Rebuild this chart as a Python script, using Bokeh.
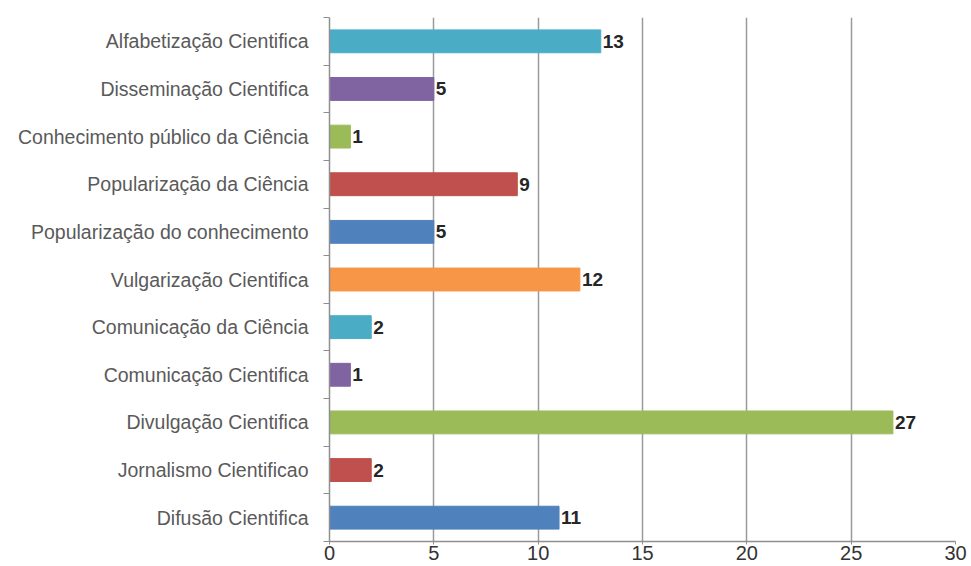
from bokeh.plotting import figure
from bokeh.models import ColumnDataSource, FixedTicker, Range1d
from bokeh.core.properties import value
from bokeh.embed import file_html
from bokeh.resources import INLINE

# Terms, listed bottom to top as they appear on the axis
terms = [
    "Difusão Cientifica",
    "Jornalismo Cientificao",
    "Divulgação Cientifica",
    "Comunicação Cientifica",
    "Comunicação da Ciência",
    "Vulgarização Cientifica",
    "Popularização do conhecimento",
    "Popularização da Ciência",
    "Conhecimento público da Ciência",
    "Disseminação Cientifica",
    "Alfabetização Cientifica",
]
counts = [11, 2, 27, 1, 2, 12, 5, 9, 1, 5, 13]
palette = ["#4F81BD", "#C0504D", "#9BBB59", "#8064A2", "#4BACC6", "#F79646"]
x_ticks = [0, 5, 10, 15, 20, 25, 30]

n = len(terms)
centers = [i + 0.5 for i in range(n)]
bounds = list(range(n + 1))
colors = [palette[i % len(palette)] for i in range(n)]

src = ColumnDataSource(dict(
    y=centers, v=counts, c=colors, lab=[str(c) for c in counts],
))

FONT = "Liberation Sans"

p = figure(
    width=971, height=566,
    x_range=Range1d(0, 30), y_range=Range1d(0, n),
    output_backend="svg", toolbar_location=None,
    min_border_left=329, min_border_right=16,
    min_border_top=17, min_border_bottom=25,
)
p.outline_line_color = None
p.background_fill_color = "white"
p.border_fill_color = "white"

p.hbar(y="y", right="v", left=0, height=0.48, color="c", source=src)
p.text(x="v", y="y", text="lab", source=src, x_offset=2,
       text_font=value(FONT), text_font_style="bold", text_font_size="19px",
       text_color="#262626", text_baseline="middle", text_align="left")

# value axis
xa = p.xaxis[0]
xa.ticker = FixedTicker(ticks=x_ticks)
xa.axis_line_color = "#8f8f8f"
xa.axis_line_width = 1.5
xa.major_tick_line_color = "#8f8f8f"
xa.major_tick_out = 3
xa.major_tick_in = 0
xa.minor_tick_line_color = None
xa.major_label_standoff = 1
xa.major_label_text_font = FONT
xa.major_label_text_font_size = "20px"
xa.major_label_text_color = "#333333"

# category axis: names at centres, tick marks at the boundaries
ya = p.yaxis[0]
ya.ticker = FixedTicker(ticks=centers, minor_ticks=bounds)
ya.major_label_overrides = {c: t for c, t in zip(centers, terms)}
ya.axis_line_color = "#8f8f8f"
ya.axis_line_width = 1.5
ya.major_tick_line_color = None
ya.major_tick_out = 0
ya.major_tick_in = 0
ya.minor_tick_line_color = "#8f8f8f"
ya.minor_tick_out = 6
ya.minor_tick_in = 0
ya.major_label_standoff = 15
ya.major_label_text_font = FONT
ya.major_label_text_font_size = "19.5px"
ya.major_label_text_color = "#5a5a5a"

p.ygrid.grid_line_color = None
p.xgrid.grid_line_color = "#9a9a9a"
p.xgrid.grid_line_width = 1.5

open("out.html", "w").write(file_html(p, INLINE))
